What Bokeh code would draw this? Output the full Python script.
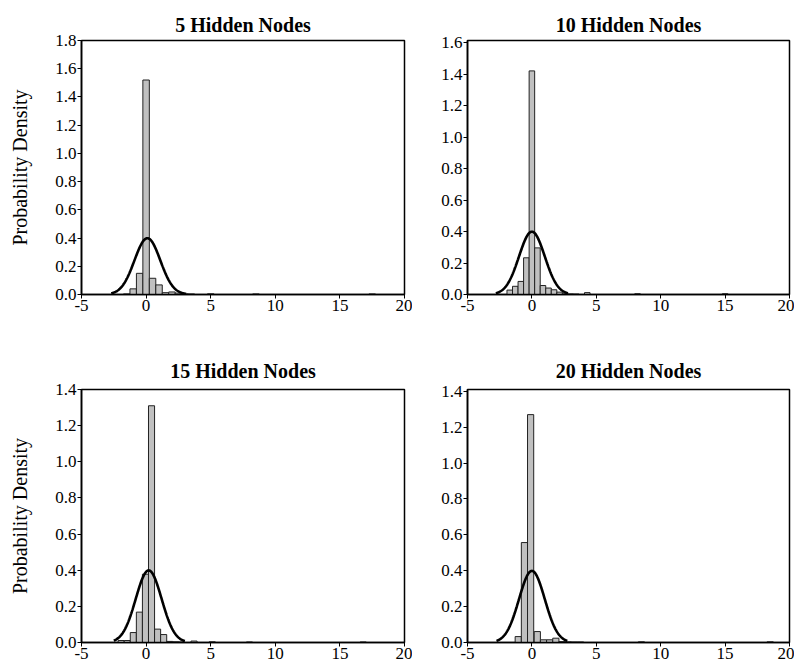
import numpy as np
from bokeh.plotting import figure
from bokeh.layouts import column, row
from bokeh.models import FixedTicker, PrintfTickFormatter
from bokeh.embed import file_html
from bokeh.resources import INLINE

FONT = "Liberation Serif"

titles = ["5 Hidden Nodes", "10 Hidden Nodes", "15 Hidden Nodes", "20 Hidden Nodes"]
x_ticks = [-5, 0, 5, 10, 15, 20]
x_tick_labels = ["-5", "0", "5", "10", "15", "20"]

# histogram bins: centres and probability densities
centers1 = [-1.5, -1.0, -0.5, 0.0, 0.5, 1.0, 1.5, 2.0, 2.5, 3.0, 3.5, 5.0, 8.5, 17.5]
dens1 = [0.004, 0.04, 0.15, 1.52, 0.115, 0.068, 0.013, 0.018, 0.01, 0.005, 0.004, 0.005, 0.004, 0.004]
width1 = 0.5

centers2 = [-1.72, -1.29, -0.86, -0.43, 0.0, 0.43, 0.86, 1.29, 1.72, 2.15, 2.58, 3.01, 3.44, 4.3, 8.2, 15.0]
dens2 = [0.028, 0.052, 0.083, 0.233, 1.42, 0.296, 0.057, 0.041, 0.03, 0.015, 0.008, 0.004, 0.003, 0.012, 0.005, 0.005]
width2 = 0.43

centers3 = [-1.93, -1.46, -0.99, -0.52, -0.05, 0.42, 0.89, 1.36, 1.83, 2.30, 2.77, 3.71, 5.12, 8.0, 16.8]
dens3 = [0.011, 0.011, 0.055, 0.168, 0.378, 1.31, 0.074, 0.044, 0.006, 0.004, 0.003, 0.008, 0.004, 0.003, 0.003]
width3 = 0.47

centers4 = [-1.06, -0.58, -0.10, 0.42, 0.90, 1.38, 1.86, 2.34, 2.82, 3.30, 3.78, 8.5, 18.5]
dens4 = [0.033, 0.557, 1.27, 0.061, 0.015, 0.015, 0.024, 0.005, 0.004, 0.003, 0.003, 0.004, 0.004]
width4 = 0.48

# fitted normal curves: mean, sd, drawn range
normal_params = [
    (0.1, 1.0, -2.7, 3.1),
    (0.0, 1.0, -2.8, 2.8),
    (0.2, 1.0, -2.5, 3.0),
    (0.0, 1.0, -2.75, 2.75),
]
y_max = [1.8, 1.613, 1.4, 1.41]
y_tick_top = [1.8, 1.6, 1.4, 1.4]


def make_panel(i, centers, dens, bw, width, height, bl, br, bt, bb, ylabel, tstand):
    p = figure(width=width, height=height, x_range=(-5, 20), y_range=(0, y_max[i]),
               output_backend="svg", toolbar_location=None,
               min_border_left=bl, min_border_right=br, min_border_top=bt, min_border_bottom=bb)
    p.title.text = titles[i]
    p.title.align = "center"
    p.title.text_font = FONT
    p.title.text_font_style = "bold"
    p.title.text_font_size = "20px"
    p.title.text_color = "black"
    p.title.standoff = tstand
    p.grid.visible = False
    p.outline_line_color = "black"
    p.outline_line_width = 1.5
    p.background_fill_color = "white"
    p.border_fill_color = "white"

    p.vbar(x=centers, width=bw, top=dens, bottom=0, fill_color="#c0c0c0",
           line_color="#222222", line_width=1)

    mu, sd, lo, hi = normal_params[i]
    xs = np.linspace(lo, hi, 200)
    ys = np.exp(-0.5 * ((xs - mu) / sd) ** 2) / (sd * np.sqrt(2 * np.pi))
    p.line(xs, ys, line_color="black", line_width=2.6)

    for ax in (p.xaxis[0], p.yaxis[0]):
        ax.axis_line_color = "black"
        ax.axis_line_width = 1.6
        ax.major_tick_line_color = "black"
        ax.major_tick_line_width = 1
        ax.major_tick_in = 0
        ax.major_tick_out = 4
        ax.minor_tick_line_color = None
        ax.major_label_text_font = FONT
        ax.major_label_text_font_size = "17px"
        ax.major_label_text_color = "black"
        ax.major_label_standoff = 1
    p.xaxis.ticker = FixedTicker(ticks=x_ticks)
    p.xaxis.major_label_overrides = {t: s for t, s in zip(x_ticks, x_tick_labels)}
    p.yaxis.ticker = FixedTicker(ticks=[round(0.2 * k, 1) for k in range(int(round(y_tick_top[i] / 0.2)) + 1)])
    p.yaxis.formatter = PrintfTickFormatter(format="%.1f")
    if ylabel:
        p.yaxis.axis_label = "Probability Density"
        p.yaxis.axis_label_text_font = FONT
        p.yaxis.axis_label_text_font_size = "20px"
        p.yaxis.axis_label_text_font_style = "normal"
        p.yaxis.axis_label_text_color = "black"
        p.yaxis.axis_label_standoff = 21
    return p


p1 = make_panel(0, centers1, dens1, width1, 412, 328, 81, 8, 40, 34, True, 9)
p2 = make_panel(1, centers2, dens2, width2, 382, 328, 55, 5, 40, 34, False, 9)
p3 = make_panel(2, centers3, dens3, width3, 412, 340, 81, 8, 61, 26, True, 16)
p4 = make_panel(3, centers4, dens4, width4, 382, 340, 55, 5, 61, 26, False, 16)

layout = column(row(p1, p2), row(p3, p4))
open("out.html", "w").write(file_html(layout, INLINE))
